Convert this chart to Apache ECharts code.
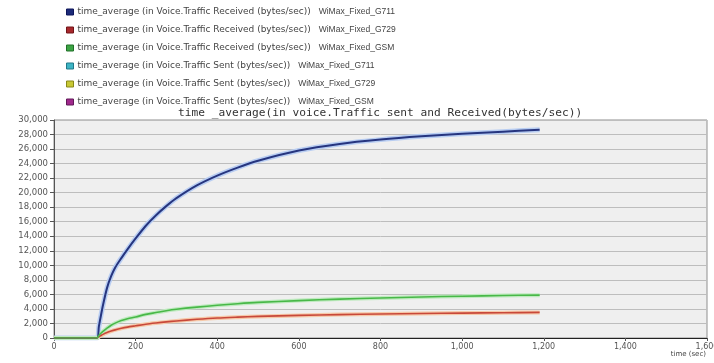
<!DOCTYPE html>
<html>
<head>
<meta charset="utf-8">
<script src="https://cdn.jsdelivr.net/npm/echarts@6/dist/echarts.min.js"></script>
<style>html,body{margin:0;padding:0;background:#fff;}#c{width:714px;height:363px;}</style>
</head>
<body>
<div id="c"></div>
<script>
// ---- data ----
const seriesMetric = [
  "time_average (in Voice.Traffic Received (bytes/sec))",
  "time_average (in Voice.Traffic Received (bytes/sec))",
  "time_average (in Voice.Traffic Received (bytes/sec))",
  "time_average (in Voice.Traffic Sent (bytes/sec))",
  "time_average (in Voice.Traffic Sent (bytes/sec))",
  "time_average (in Voice.Traffic Sent (bytes/sec))"
];
const seriesScenario = ["WiMax_Fixed_G711", "WiMax_Fixed_G729", "WiMax_Fixed_GSM", "WiMax_Fixed_G711", "WiMax_Fixed_G729", "WiMax_Fixed_GSM"];
const xTicks = [0, 200, 400, 600, 800, 1000, 1200, 1400, 1600];
const yTicks = [0, 2000, 4000, 6000, 8000, 10000, 12000, 14000, 16000, 18000, 20000, 22000, 24000, 26000, 28000, 30000];

const timeSec  = [0, 105, 110, 115, 120, 130, 140, 150, 165, 180, 200, 225, 250, 275, 300, 350, 400, 450, 500, 600, 700, 800, 900, 1000, 1100, 1190];
const g711Recv = [0, 0, 1600, 3100, 4500, 6900, 8500, 9700, 11000, 12200, 13700, 15450, 16900, 18150, 19250, 21000, 22350, 23450, 24400, 25800, 26700, 27300, 27750, 28100, 28400, 28650];
const g729Recv = [0, 0, 170, 340, 500, 750, 950, 1120, 1330, 1500, 1680, 1900, 2070, 2220, 2350, 2570, 2750, 2870, 2970, 3110, 3220, 3300, 3370, 3430, 3480, 3520];
const gsmRecv  = [0, 0, 350, 650, 900, 1350, 1750, 2050, 2400, 2650, 2900, 3250, 3500, 3750, 3950, 4250, 4500, 4720, 4900, 5150, 5350, 5500, 5650, 5750, 5850, 5900];
// sent traffic equals received traffic (drawn underneath)
const g711Sent = g711Recv.slice();
const g729Sent = g729Recv.slice();
const gsmSent  = gsmRecv.slice();

const seriesNames = seriesMetric.map((m, i) => m + '\u2002' + seriesScenario[i]);
const pairs = (t, v) => t.map((x, i) => [x, v[i]]);
const fmt = v => v.toLocaleString('en-US');

const legendColors = ['#1c2a78', '#a8282c', '#3ca444', '#3cb4c4', '#c8c834', '#a0288c'];
const legendBorders = ['#0c145a', '#701418', '#207028', '#207888', '#888818', '#601858'];
const lineColors = ['#26357f', '#c8483a', '#48b848'];
const haloColors = ['#b8cdf2', '#f6c8a8', '#bfeabf'];

const chart = echarts.init(document.getElementById('c'));
const lineSeries = (name, data, color, width, z) => ({
  name, type: 'line', data, z, showSymbol: false, symbol: 'none',
  smooth: 0.3,
  lineStyle: { color, width }, itemStyle: { color },
  animation: false
});

chart.setOption({
  backgroundColor: '#fff',
  animation: false,
  title: {
    text: 'time _average(in voice.Traffic sent and Received(bytes/sec))',
    left: 178, top: 108, padding: 0,
    textStyle: { fontFamily: 'DejaVu Sans Mono', fontSize: 11.2, fontWeight: 'normal', color: '#333' }
  },
  legend: {
    orient: 'vertical', left: 66, top: 7, padding: 0, icon: 'rect',
    itemWidth: 7, itemHeight: 6, itemGap: 8,
    textStyle: {
      fontFamily: 'DejaVu Sans', fontSize: 9, color: '#444', lineHeight: 10, padding: [0, 0, 0, -1],
      rich: {
        a: { fontFamily: 'DejaVu Sans', fontSize: 9, color: '#444' },
        b: { fontFamily: 'Liberation Sans', fontSize: 8.5, color: '#444', padding: [0, 0, 0, 8] }
      }
    },
    formatter: name => {
      const i = seriesNames.indexOf(name);
      return '{a|' + seriesMetric[i] + '}{b|' + seriesScenario[i] + '}';
    },
    data: seriesNames.map((n, i) => ({ name: n, itemStyle: { color: legendColors[i], borderColor: legendBorders[i], borderWidth: 1 } })),
    selectedMode: false
  },
  grid: { left: 54, right: 7, top: 120, bottom: 25, outerBoundsMode: 'none', containLabel: false, show: true, backgroundColor: '#efefef', borderColor: '#8f8f8f', borderWidth: 1 },
  xAxis: {
    type: 'value', min: 0, max: 1600, interval: 200,
    axisLine: { show: true, lineStyle: { color: '#222', width: 1 } },
    axisTick: { show: true, length: 3, lineStyle: { color: '#555' } },
    axisLabel: { fontFamily: 'DejaVu Sans', fontSize: 8, color: '#555', margin: 5, formatter: fmt, showMaxLabel: true },
    splitLine: { show: false }
  },
  yAxis: {
    type: 'value', min: 0, max: 30000, interval: 2000,
    axisLine: { show: true, lineStyle: { color: '#555', width: 1 } },
    axisTick: { show: true, length: 4, lineStyle: { color: '#555' } },
    axisLabel: { fontFamily: 'DejaVu Sans', fontSize: 8.5, color: '#555', margin: 6, formatter: fmt },
    splitLine: { show: true, lineStyle: { color: '#bdbdbd', width: 1 } }
  },
  graphic: [{
    type: 'text', right: 8, top: 351,
    style: { text: 'time (sec)', font: '7px "DejaVu Sans"', fill: '#444' }
  }],
  series: [
    lineSeries(seriesNames[0], pairs(timeSec, g711Recv), lineColors[0], 2, 5),
    lineSeries(seriesNames[1], pairs(timeSec, g729Recv), lineColors[1], 1.6, 5),
    lineSeries(seriesNames[2], pairs(timeSec, gsmRecv), lineColors[2], 1.6, 5),
    Object.assign(lineSeries(seriesNames[3], pairs(timeSec, g711Sent), haloColors[0], 5, 2), { itemStyle: { color: legendColors[3] } }),
    Object.assign(lineSeries(seriesNames[4], pairs(timeSec, g729Sent), haloColors[1], 4, 2), { itemStyle: { color: legendColors[4] } }),
    Object.assign(lineSeries(seriesNames[5], pairs(timeSec, gsmSent), haloColors[2], 4, 2), { itemStyle: { color: legendColors[5] } })
  ]
});
</script>
</body>
</html>
